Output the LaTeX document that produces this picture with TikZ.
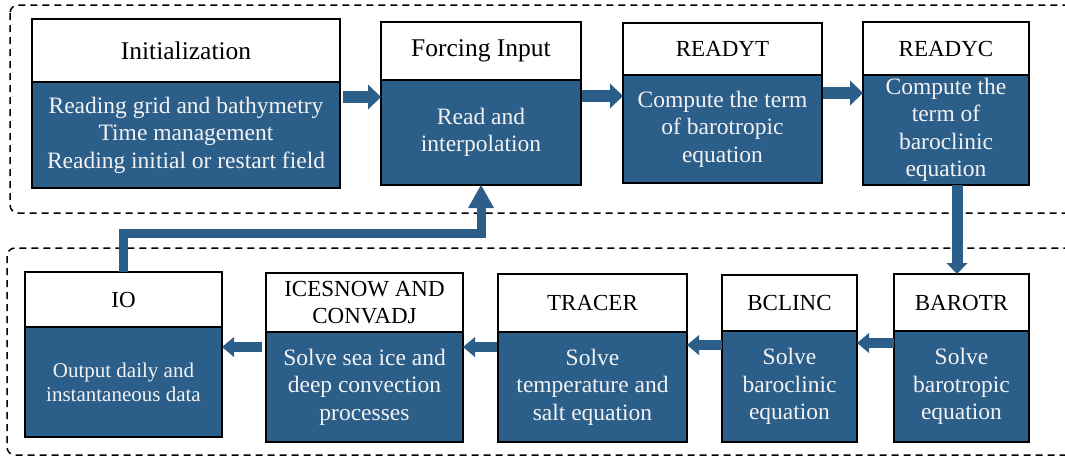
\documentclass[tikz,border=0pt]{standalone}
\usepackage{fontspec}
\setmainfont{Liberation Serif}
\usetikzlibrary{arrows.meta}
\definecolor{boxblue}{RGB}{44,94,138}
\definecolor{boxtext}{RGB}{242,242,242}
\begin{document}
\begin{tikzpicture}[x=1pt,y=-1pt,
  hdr/.style={draw=black, fill=white, line width=1.3pt, anchor=north west, inner sep=0pt, outer sep=0pt, align=center, text=black},
  bdy/.style={draw=black, fill=boxblue, line width=1.3pt, anchor=north west, inner sep=0pt, outer sep=0pt, align=center, text=boxtext, font=\fontsize{23.5}{27.5}\selectfont},
  hbig/.style={font=\fontsize{25.5}{29}\selectfont},
  hcap/.style={font=\fontsize{23}{27}\selectfont},
  dashbox/.style={draw=black, line width=1.5pt, dash pattern=on 7pt off 5pt, rounded corners=8pt},
  bigarr/.style={draw=boxblue, line width=12pt, -{Triangle[width=25pt,length=13pt,line width=0pt]}},
  downarr/.style={draw=boxblue, line width=11pt, -{Triangle[width=21pt,length=11pt,line width=0pt]}},
  smarr/.style={draw=boxblue, line width=10pt, -{Triangle[width=20pt,length=12pt,line width=0pt]}},
  fbarr/.style={draw=boxblue, line width=9pt, line join=miter, -{Triangle[width=26pt,length=23pt,line width=0pt]}}
]
\clip (0,0) rectangle (1065,459);
\fill[white] (0,0) rectangle (1065,459);

% dashed group frames
\draw[dashbox] (10,5) rectangle (1085,213);
\draw[dashbox] (7,248) rectangle (1085,455);

% top row
\node[hdr, hbig, minimum width=308pt, minimum height=63pt] (initt) at (32,19) {Initialization};
\node[bdy, minimum width=308pt, minimum height=106pt] (initb) at (initt.south west) {Reading grid and bathymetry\\Time management\\Reading initial or restart field};

\node[hdr, hbig, minimum width=200pt, minimum height=58pt] (forct) at (381,22) {Forcing Input};
\node[bdy, minimum width=200pt, minimum height=105pt] (forcb) at (forct.south west) {Read and\\interpolation};

\node[hdr, hcap, minimum width=199pt, minimum height=52pt] (rtt) at (623,23) {READYT};
\node[bdy, minimum width=199pt, minimum height=108pt] (rtb) at (rtt.south west) {Compute the term\\of barotropic\\equation};

\node[hdr, hcap, minimum width=166pt, minimum height=53pt] (rct) at (863,22) {READYC};
\node[bdy, minimum width=166pt, minimum height=110pt] (rcb) at (rct.south west) {Compute the\\term of\\baroclinic\\equation};

% bottom row
\node[hdr, hcap, minimum width=197pt, minimum height=55pt] (iot) at (25,272) {IO};
\node[bdy, minimum width=197pt, minimum height=110pt, font=\fontsize{21}{24}\selectfont] (iob) at (iot.south west) {Output daily and\\instantaneous data};

\node[hdr, hcap, minimum width=197pt, minimum height=59pt] (icet) at (266,273) {ICESNOW AND\\CONVADJ};
\node[bdy, minimum width=197pt, minimum height=110pt] (iceb) at (icet.south west) {Solve sea ice and\\deep convection\\processes};

\node[hdr, hcap, minimum width=189pt, minimum height=58pt] (trt) at (498,274) {TRACER};
\node[bdy, minimum width=189pt, minimum height=110pt] (trb) at (trt.south west) {Solve\\temperature and\\salt equation};

\node[hdr, hcap, minimum width=135pt, minimum height=56pt] (bct) at (722,275) {BCLINC};
\node[bdy, minimum width=135pt, minimum height=111pt] (bcb) at (bct.south west) {Solve\\baroclinic\\equation};

\node[hdr, hcap, minimum width=135pt, minimum height=57pt] (btt) at (894,274) {BAROTR};
\node[bdy, minimum width=135pt, minimum height=111pt] (btb) at (btt.south west) {Solve\\barotropic\\equation};

% connectors
\draw[bigarr, shorten <=3pt] (initb.east |- 0,97) -- (forcb.west |- 0,97);
\draw[bigarr, shorten <=1pt] (forcb.east |- 0,96) -- (rtb.west |- 0,96);
\draw[bigarr, shorten <=1pt] (rtb.east |- 0,93) -- (rcb.west |- 0,93);
\draw[downarr] (957,0 |- rcb.south) -- (957,0 |- btt.north);
\draw[smarr] (btb.west |- 0,343) -- (bcb.east |- 0,343);
\draw[smarr] (bcb.west |- 0,345) -- (trb.east |- 0,345);
\draw[smarr, shorten <=1pt] (trb.west |- 0,347) -- (iceb.east |- 0,347);
\draw[smarr, shorten <=4pt] (iceb.west |- 0,347) -- (iob.east |- 0,347);
\draw[fbarr] (iot.north) -- (iot.north |- 0,233) -- (forcb.south |- 0,233) -- (forcb.south);
\end{tikzpicture}
\end{document}
